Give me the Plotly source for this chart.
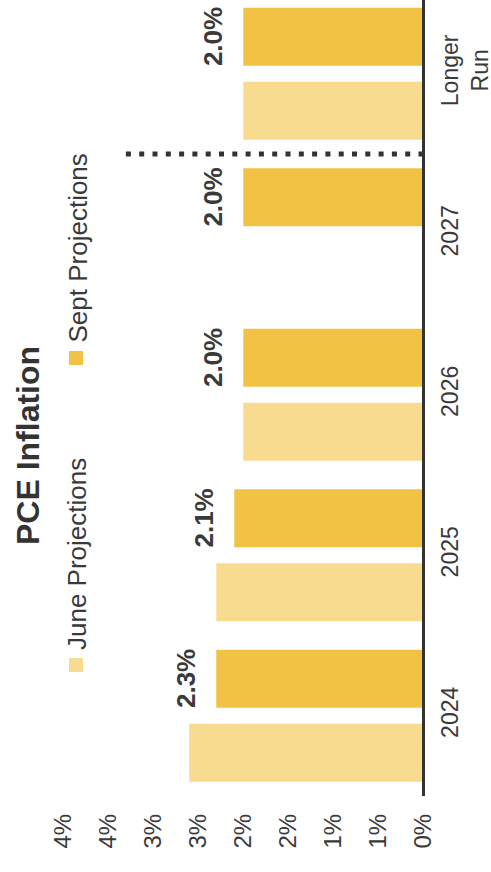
import plotly.graph_objects as go

# Fed PCE inflation projections (median, %)
categories = ["2024", "2025", "2026", "2027", "Longer<br>Run"]
june_values = [2.6, 2.3, 2.0, None, 2.0]
sept_values = [2.3, 2.1, 2.0, 2.0, 2.0]
series_names = ["June Projections", "Sept Projections"]
tick_values = [0, 0.5, 1, 1.5, 2, 2.5, 3, 3.5, 4]
tick_labels = ["0%", "1%", "1%", "2%", "2%", "3%", "3%", "4%", "4%"]

JUNE_COLOR = "#F8DB8F"
SEPT_COLOR = "#F2C244"
TEXT_COLOR = "#3a3a3a"
FONT = "Liberation Sans, Arial, sans-serif"

W, H = 491, 872
L, R, T, B = 20, 61, 0, 76
PW, PH = W - L - R, H - T - B


def px_x(px):
    return (px - L) / PW


def px_y(py):
    return 1 - (py - T) / PH


fig = go.Figure()
fig.add_trace(go.Bar(y=categories, x=june_values, orientation="h",
                     name=series_names[0], marker_color=JUNE_COLOR,
                     marker_line_width=0, showlegend=False))
fig.add_trace(go.Bar(y=categories, x=sept_values, orientation="h",
                     name=series_names[1], marker_color=SEPT_COLOR,
                     marker_line_width=0, showlegend=False))

# value labels on the September bars (y given as category index)
for i, v in enumerate(sept_values):
    fig.add_annotation(x=v, y=i, xref="x", yref="y", text=f"<b>{v:.1f}%</b>",
                       textangle=-90, showarrow=False, xanchor="right",
                       yanchor="middle", xshift=-13, yshift=37,
                       font=dict(family=FONT, size=26, color=TEXT_COLOR))

# baseline at zero
fig.add_shape(type="line", xref="x", yref="paper", x0=0, x1=0, y0=0, y1=1,
              line=dict(color="#333333", width=3))
# dotted separator between dated projections and the longer run
fig.add_shape(type="line", xref="x", yref="y", x0=0, x1=3.38, y0=3.5, y1=3.5,
              line=dict(color="#333333", width=5, dash="5px,8.3px"))

# title
fig.add_annotation(xref="paper", yref="paper", x=px_x(28), y=px_y(446),
                   text="<b>PCE Inflation</b>", textangle=-90, showarrow=False,
                   xanchor="center", yanchor="middle",
                   font=dict(family=FONT, size=32, color="#333333"))

# legend (rotated)
for name, color, sq_center, text_start in [
        (series_names[0], JUNE_COLOR, 665, 652),
        (series_names[1], SEPT_COLOR, 358, 345)]:
    fig.add_shape(type="rect", xref="paper", yref="paper",
                  x0=px_x(69), x1=px_x(83), y0=px_y(sq_center + 7),
                  y1=px_y(sq_center - 7), fillcolor=color, line_width=0)
    fig.add_annotation(xref="paper", yref="paper", x=px_x(77), y=px_y(text_start),
                       text=name, textangle=-90, showarrow=False,
                       xanchor="center", yanchor="bottom",
                       font=dict(family=FONT, size=26, color=TEXT_COLOR))

fig.update_layout(
    width=W, height=H,
    margin=dict(l=L, r=R, t=T, b=B, pad=0),
    paper_bgcolor="white", plot_bgcolor="white",
    barmode="group", bargap=0.078, bargroupgap=0.215,
    showlegend=False,
    font=dict(family=FONT, color=TEXT_COLOR),
)
fig.update_xaxes(range=[4.478, -0.072], tickvals=tick_values, ticktext=tick_labels,
                 tickangle=-90, showgrid=False, zeroline=False, showline=False,
                 ticks="", ticklabelstandoff=12, automargin=False,
                 tickfont=dict(family=FONT, size=24, color=TEXT_COLOR))
fig.update_yaxes(type="category", categoryorder="array", categoryarray=categories,
                 range=[-0.5, 4.46], side="right", tickangle=-90, showgrid=False,
                 zeroline=False, showline=False, ticks="", automargin=False,
                 ticklabelstandoff=4,
                 tickfont=dict(family=FONT, size=23, color=TEXT_COLOR))

fig.write_html("out.html")
